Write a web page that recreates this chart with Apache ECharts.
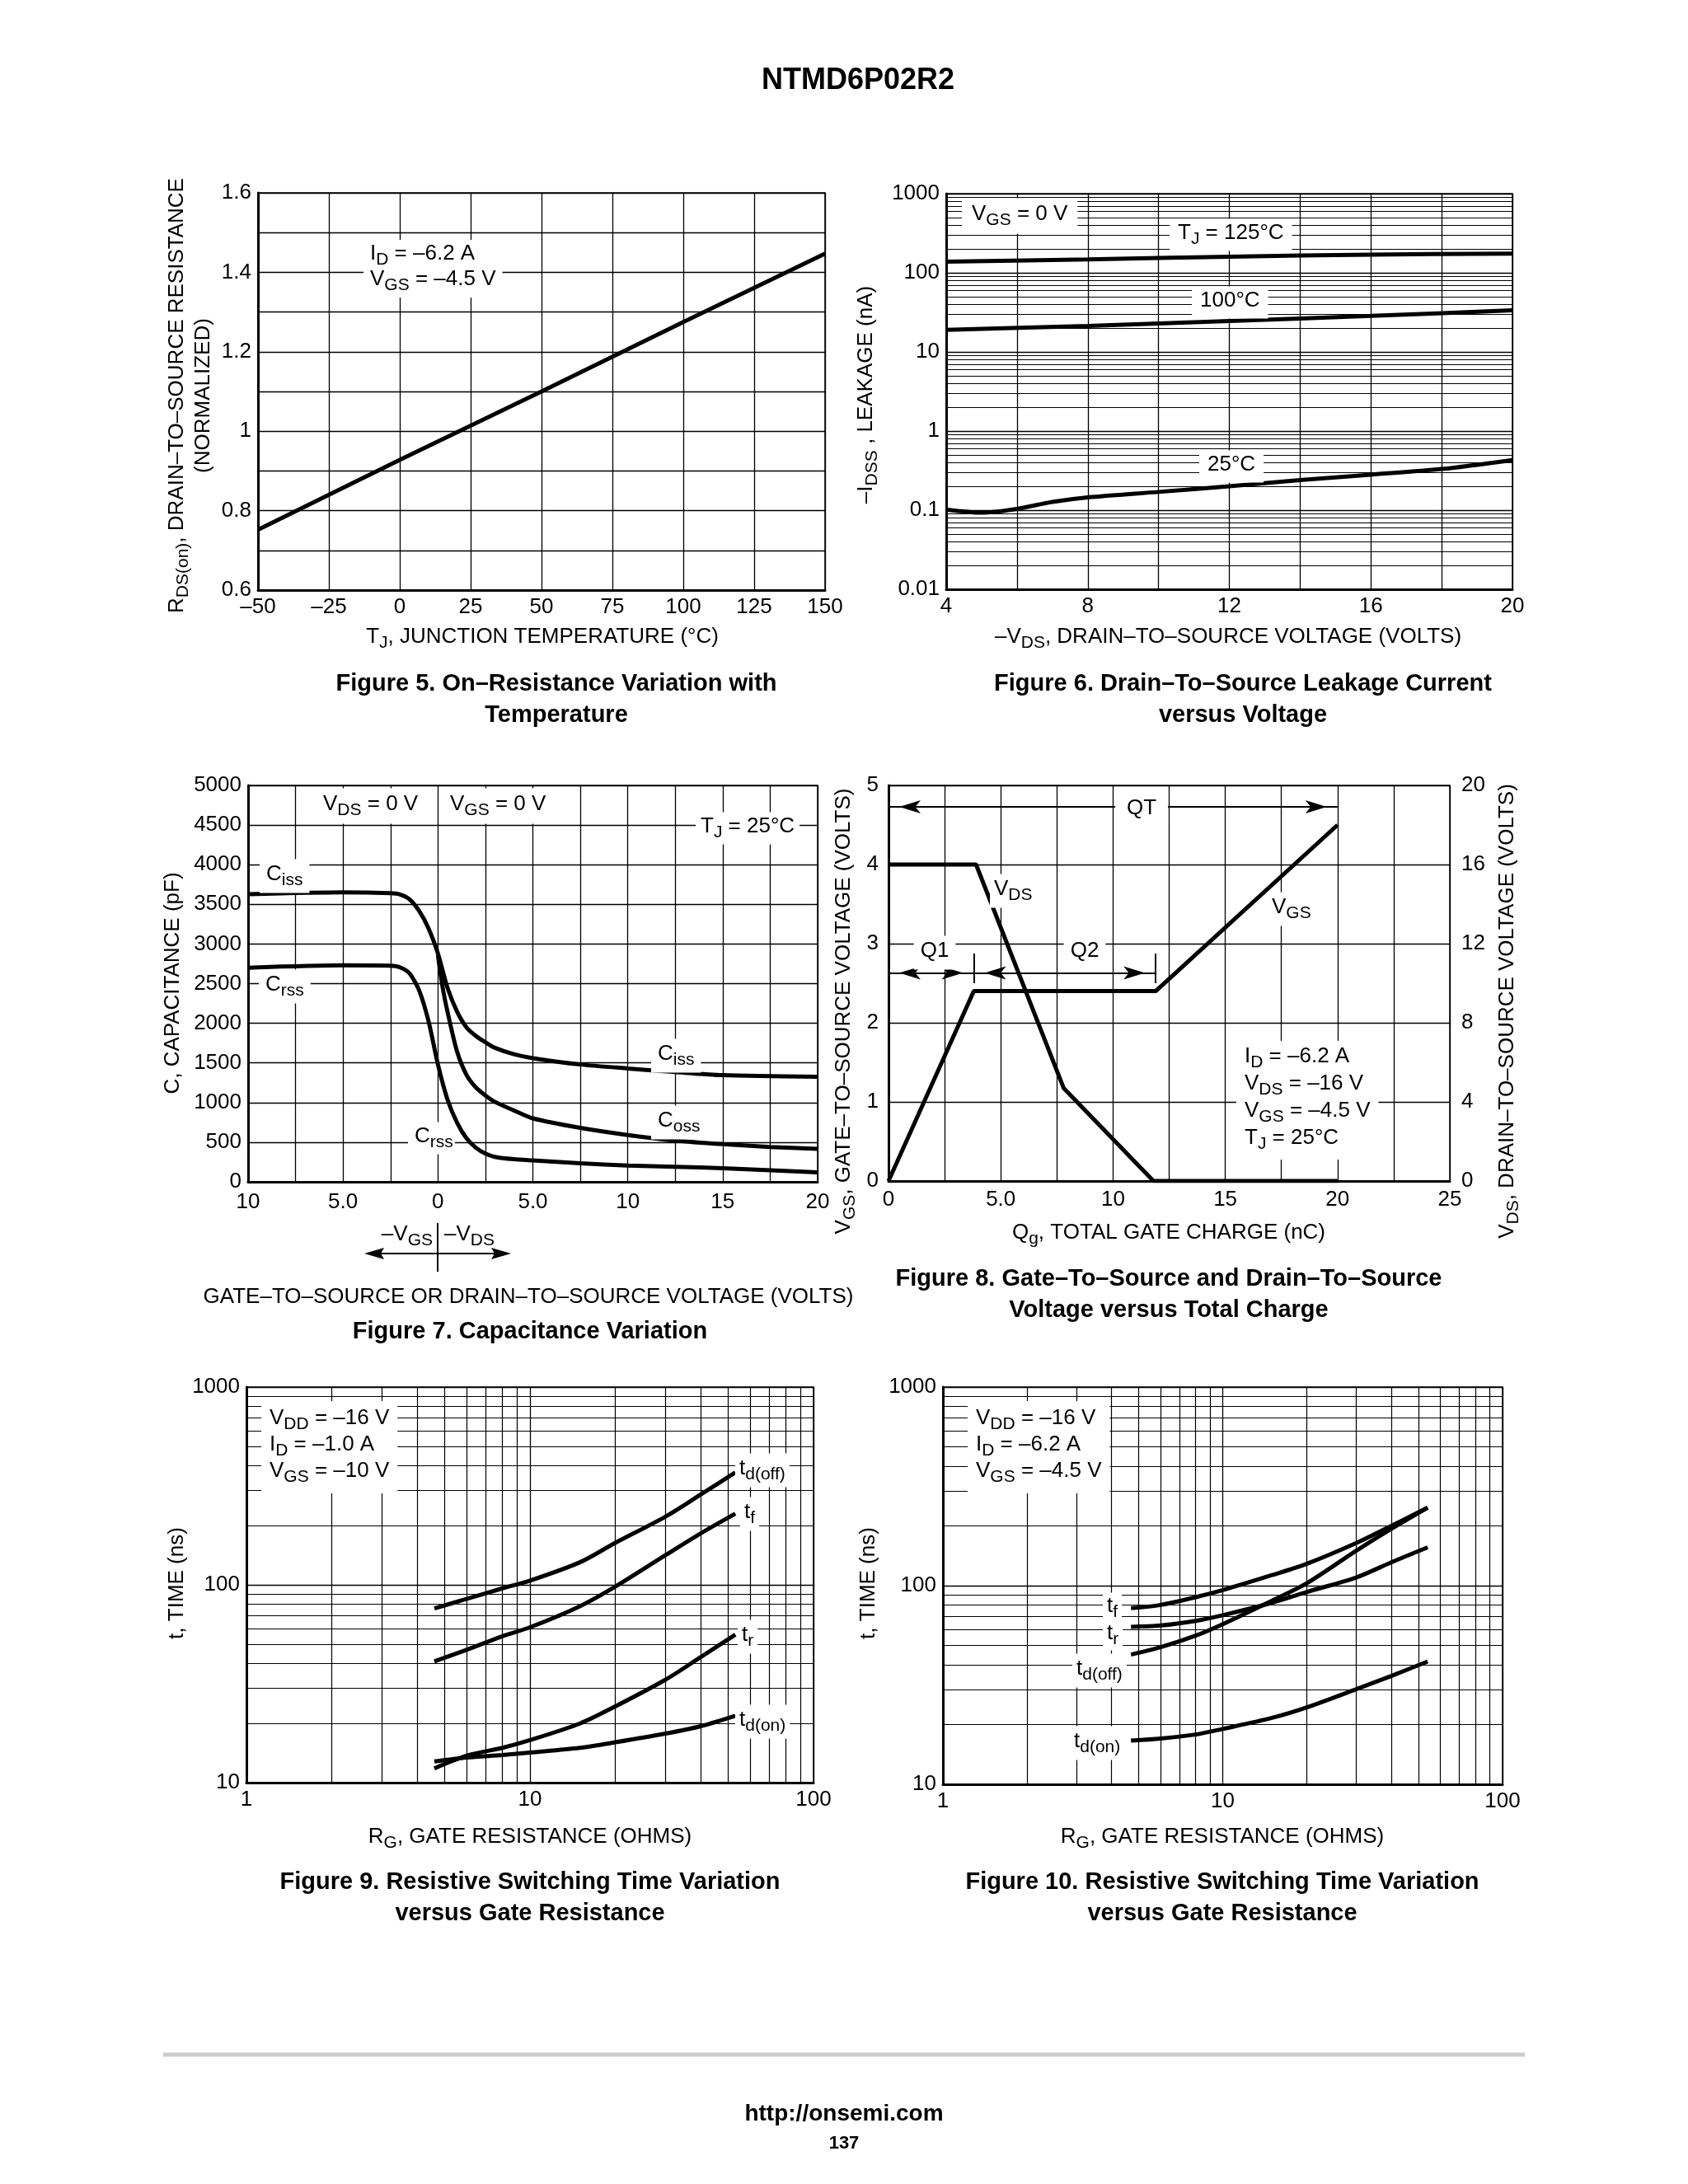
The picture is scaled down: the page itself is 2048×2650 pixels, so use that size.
<!DOCTYPE html>
<html><head><meta charset="utf-8">
<script src="https://cdn.jsdelivr.net/npm/echarts@6/dist/echarts.min.js"></script>
<style>html,body{margin:0;padding:0;background:#fff}#c{width:2048px;height:2650px}</style>
</head><body><div id="c"></div>
<script>
// ---------------- DATA ----------------
// Figure 5
const fig5Temp = [-50, 0, 50, 100, 150];
const fig5Rds = [0.752, 0.928, 1.10, 1.275, 1.447];
// Figure 6
const fig6VdsHi = [4, 8, 12, 16, 20];
const fig6I125 = [138, 148, 160, 170, 175];
const fig6I100 = [19, 21.3, 24.6, 28.5, 33.5];
const fig6VdsLo = [4, 5, 6, 7, 8, 10, 12, 14, 16, 18, 20];
const fig6I25 = [0.102, 0.093, 0.104, 0.127, 0.145, 0.170, 0.200, 0.240, 0.281, 0.331, 0.43];
// Figure 7
const fig7VA = [-10, -5, -2.5, -2, -1.5, -1, -0.5, 0, 0.5, 1, 1.5, 2, 2.5, 3, 4, 5, 7.5, 10, 12.5, 15, 20];
const fig7Ciss = [3627, 3650, 3640, 3625, 3565, 3420, 3200, 2880, 2450, 2150, 1950, 1840, 1760, 1690, 1610, 1560, 1480, 1430, 1385, 1345, 1325];
const fig7Crss = [2700, 2730, 2725, 2705, 2630, 2420, 2030, 1480, 1040, 750, 550, 430, 355, 315, 285, 270, 235, 205, 190, 172, 120];
const fig7VB = [0, 0.25, 0.5, 1, 1.5, 2, 2.5, 3, 4, 5, 7.5, 10, 12.5, 15, 17.5, 20];
const fig7Coss = [2860, 2450, 2150, 1650, 1350, 1190, 1090, 1010, 900, 800, 680, 590, 520, 475, 440, 415];
// Figure 8
const fig8QgVgs = [0, 3.8, 11.9, 20];
const fig8Vgs = [0, 2.4, 2.4, 4.5];
const fig8QgVds = [0, 3.9, 7.8, 11.8, 20];
const fig8Vds = [16, 16, 4.7, 0, 0];
const fig8Arrows = [[[0, 4.73], [20, 4.73]], [[0, 2.63], [3.8, 2.63]], [[3.8, 2.63], [11.9, 2.63]]];
const fig8Ticks = [[[3.8, 10.0], [3.8, 11.5]], [[11.9, 10.0], [11.9, 11.5]]];
// Figure 9
const fig9Rg = [4.6, 6, 8, 10, 15, 20, 30, 40, 53];
const fig9Tdoff = [76, 85, 96, 105, 130, 163, 221, 286, 370];
const fig9Tf = [41, 47, 55, 61, 78, 98, 141, 182, 229];
const fig9Tr = [11.8, 13.7, 15.0, 16.4, 19.9, 24.3, 33.1, 43.1, 56];
const fig9Tdon = [12.8, 13.4, 13.8, 14.2, 15.0, 16.0, 17.7, 19.3, 21.8];
// Figure 10
const fig10Rg = [4.7, 6, 8, 10, 15, 20, 30, 40, 54];
const fig10Tf = [77, 80, 87.5, 95, 113, 129, 164, 200, 247];
const fig10Tr = [62, 63, 66.5, 71, 82, 93, 110, 131, 156];
const fig10Tdoff = [45, 49, 56, 64, 84, 103, 150, 193, 247];
const fig10Tdon = [16.6, 17.0, 17.8, 19.0, 21.6, 24.4, 30.1, 35.1, 41.5];

// ---------------- HELPERS ----------------
const FONT = "'Liberation Sans', Arial, Helvetica, sans-serif";
const BLACK = '#000';

function zip(xs, ys) { return xs.map((x, i) => [x, ys[i]]); }

function mk(s) {
  return s.split('\n').map(line => {
    let out = '', last = 0, m;
    const re = /_\{([^}]*)\}/g;
    while ((m = re.exec(line))) {
      if (m.index > last) out += '{n|' + line.slice(last, m.index) + '}';
      out += '{s|' + m[1] + '}';
      last = re.lastIndex;
    }
    if (last < line.length) out += '{n|' + line.slice(last) + '}';
    return out;
  }).join('\n');
}
function richSet(size, bold, lh) {
  const w = bold ? 'bold' : 'normal';
  const L = lh || Math.round(size * 1.2);
  const ss = Math.round(size * 0.8);
  return {
    n: {fontSize: size, fontFamily: FONT, fontWeight: w, fill: BLACK, lineHeight: L, verticalAlign: 'top'},
    s: {fontSize: ss, fontFamily: FONT, fontWeight: w, fill: BLACK, lineHeight: L, verticalAlign: 'top', padding: [Math.round(size * 0.38), 0, 0, 0]}
  };
}
function T(x, y, s, o) {
  o = o || {};
  const size = o.size || 26;
  const pad = o.pad || (o.bg ? [3, 7, 3, 7] : [0, 0, 0, 0]);
  const align = o.align || 'left';
  if (align === 'left') x -= pad[3];
  if (align === 'right') x += pad[1];
  const style = {
    text: mk(s), rich: richSet(size, o.bold, o.lh), align: align, verticalAlign: 'middle',
    fontFamily: FONT, fontSize: size, fontWeight: o.bold ? 'bold' : 'normal', fill: BLACK, padding: pad
  };
  if (o.bg) style.backgroundColor = '#fff';
  return {type: 'text', x: x, y: y, z: 100, rotation: o.rot ? Math.PI / 2 : 0, style: style};
}

function axis(o) {
  const a = {
    type: o.type || 'value', gridIndex: o.grid, min: o.min, max: o.max,
    axisLine: {show: o.line !== false, onZero: false, lineStyle: {color: BLACK, width: 3}},
    axisTick: {show: false},
    axisLabel: {show: true, color: BLACK, fontSize: 26, fontFamily: FONT, margin: o.margin || 10,
      showMinLabel: true, showMaxLabel: true, formatter: o.fmt || (v => String(v))},
    splitLine: {show: o.split !== false, lineStyle: {color: BLACK, width: 1.3}},
    splitArea: {show: false}
  };
  if (o.interval != null) a.interval = o.interval;
  if (o.type === 'log') a.logBase = 10;
  if (o.position) a.position = o.position;
  return a;
}

function line(xi, yi, data, extra) {
  return Object.assign({
    type: 'line', xAxisIndex: xi, yAxisIndex: yi, data: data, showSymbol: false, symbol: 'none',
    smooth: 0.3, lineStyle: {color: BLACK, width: 5}, silent: true,
    animation: false, z: 5, clip: true
  }, extra || {});
}

function logMinor(decades) {
  const v = [];
  decades.forEach(d => { for (let k = 2; k <= 9; k++) v.push(+(k * d).toPrecision(3)); });
  return v;
}
function minorMark(yVals, xVals) {
  const data = [];
  (yVals || []).forEach(v => data.push({yAxis: v}));
  (xVals || []).forEach(v => data.push({xAxis: v}));
  return {silent: true, symbol: 'none', label: {show: false}, emphasis: {disabled: true}, animation: false,
    lineStyle: {color: BLACK, width: 1.2, type: 'solid'}, data: data};
}

const logFmt = v => String(+(+v).toPrecision(3));

// ---------------- LAYOUT ----------------
const gridBase = {show: true, borderColor: BLACK, borderWidth: 1.5, backgroundColor: 'transparent', containLabel: false, outerBoundsMode: 'none'};
const grids = [
  Object.assign({left: 313, top: 234, width: 688, height: 482}, gridBase),
  Object.assign({left: 1148, top: 235, width: 687, height: 480}, gridBase),
  Object.assign({left: 301, top: 953, width: 691, height: 481}, gridBase),
  Object.assign({left: 1078, top: 953, width: 681, height: 480}, gridBase),
  Object.assign({left: 299, top: 1683, width: 688, height: 480}, gridBase),
  Object.assign({left: 1144, top: 1683, width: 679, height: 482}, gridBase)
];

const xAxes = [
  axis({grid: 0, min: -50, max: 150, interval: 25, margin: 8, fmt: v => v < 0 ? '\u2013' + (-v) : String(v)}),
  axis({grid: 1, min: 4, max: 20, interval: 2, margin: 8, fmt: v => v % 4 === 0 ? String(v) : ''}),
  axis({grid: 2, min: -10, max: 20, interval: 2.5, margin: 12, fmt: v => {
    if (Math.abs(v % 5) > 1e-6) return '';
    if (v === 0) return '0';
    if (Math.abs(v) === 5) return '5.0';
    return String(Math.abs(v));
  }}),
  axis({grid: 3, min: 0, max: 25, interval: 2.5, margin: 10, fmt: v => {
    if (Math.abs(v % 5) > 1e-6) return '';
    return v === 5 ? '5.0' : String(v);
  }}),
  axis({grid: 4, type: 'log', min: 1, max: 100, margin: 8, fmt: logFmt}),
  axis({grid: 5, type: 'log', min: 1, max: 100, margin: 8, fmt: logFmt})
];
const yAxes = [
  axis({grid: 0, min: 0.6, max: 1.6, interval: 0.1, margin: 8, fmt: v => { const r = Math.round(v * 10); return r % 2 === 0 ? String(r / 10) : ''; }}),
  axis({grid: 1, type: 'log', min: 0.01, max: 1000, margin: 8, fmt: logFmt}),
  axis({grid: 2, min: 0, max: 5000, interval: 500, margin: 8, fmt: v => String(v)}),
  axis({grid: 3, min: 0, max: 5, interval: 1, margin: 12}),
  axis({grid: 3, min: 0, max: 20, interval: 4, margin: 14, position: 'right', line: false, split: false}),
  axis({grid: 4, type: 'log', min: 10, max: 1000, margin: 8, fmt: logFmt}),
  axis({grid: 5, type: 'log', min: 10, max: 1000, margin: 8, fmt: logFmt})
];

const arrowMark = {
  silent: true, symbol: ['arrow', 'arrow'], symbolSize: [12, 26], symbolOffset: [[0, 13], [0, 13]],
  label: {show: false}, emphasis: {disabled: true}, animation: false,
  lineStyle: {color: BLACK, width: 2, type: 'solid'},
  data: fig8Arrows.map(p => [{coord: p[0]}, {coord: p[1]}])
};
const tickMark = {
  silent: true, symbol: 'none', label: {show: false}, emphasis: {disabled: true}, animation: false,
  lineStyle: {color: BLACK, width: 2, type: 'solid'},
  data: fig8Ticks.map(p => [{coord: p[0]}, {coord: p[1]}])
};

const series = [
  line(0, 0, zip(fig5Temp, fig5Rds), {smooth: false}),
  line(1, 1, zip(fig6VdsHi, fig6I125), {markLine: minorMark(logMinor([0.01, 0.1, 1, 10, 100]))}),
  line(1, 1, zip(fig6VdsHi, fig6I100)),
  line(1, 1, zip(fig6VdsLo, fig6I25)),
  line(2, 2, zip(fig7VA, fig7Ciss), {smooth: 0.25}),
  line(2, 2, zip(fig7VA, fig7Crss), {smooth: 0.25}),
  line(2, 2, zip(fig7VB, fig7Coss), {smooth: 0.25}),
  line(3, 3, zip(fig8QgVgs, fig8Vgs), {smooth: false, markLine: arrowMark}),
  line(3, 4, zip(fig8QgVds, fig8Vds), {smooth: false, markLine: tickMark}),
  line(4, 5, zip(fig9Rg, fig9Tdoff), {markLine: minorMark(logMinor([10, 100]), logMinor([1, 10]))}),
  line(4, 5, zip(fig9Rg, fig9Tf)),
  line(4, 5, zip(fig9Rg, fig9Tr)),
  line(4, 5, zip(fig9Rg, fig9Tdon)),
  line(5, 6, zip(fig10Rg, fig10Tf), {markLine: minorMark(logMinor([10, 100]), logMinor([1, 10]))}),
  line(5, 6, zip(fig10Rg, fig10Tr)),
  line(5, 6, zip(fig10Rg, fig10Tdoff)),
  line(5, 6, zip(fig10Rg, fig10Tdon))
];

const CAP = {bold: true, size: 29, align: 'center', lh: 38};
const BOX = [8, 10, 8, 10];
const elements = [
  T(1041, 102, 'NTMD6P02R2', {bold: true, size: 36, align: 'center'}),
  // Figure 5
  T(449, 326, 'I_{D} = \u20136.2 A\nV_{GS} = \u20134.5 V', {bg: true, pad: [4, 8, 4, 8]}),
  T(217, 480, 'R_{DS(on)}, DRAIN\u2013TO\u2013SOURCE RESISTANCE', {align: 'center', rot: true}),
  T(249, 480, '(NORMALIZED)', {align: 'center', rot: true}),
  T(658, 775, 'T_{J}, JUNCTION TEMPERATURE (\u00B0C)', {align: 'center'}),
  T(675, 853, 'Figure 5. On\u2013Resistance Variation with\nTemperature', CAP),
  // Figure 6
  T(1179, 262, 'V_{GS} = 0 V', {bg: true, pad: [6, 12, 6, 12]}),
  T(1429, 285, 'T_{J} = 125\u00B0C', {bg: true, pad: [4, 10, 4, 10]}),
  T(1456, 367, '100\u00B0C', {bg: true, pad: [4, 10, 4, 10]}),
  T(1465, 566, '25\u00B0C', {bg: true, pad: [4, 10, 4, 10]}),
  T(1053, 479, '\u2013I_{DSS} , LEAKAGE (nA)', {align: 'center', rot: true}),
  T(1490, 775, '\u2013V_{DS}, DRAIN\u2013TO\u2013SOURCE VOLTAGE (VOLTS)', {align: 'center'}),
  T(1508, 853, 'Figure 6. Drain\u2013To\u2013Source Leakage Current\nversus Voltage', CAP),
  // Figure 7
  T(392, 978, 'V_{DS} = 0 V', {bg: true, pad: [6, 6, 6, 6]}),
  T(546, 978, 'V_{GS} = 0 V', {bg: true, pad: [6, 6, 6, 6]}),
  T(850, 1005, 'T_{J} = 25\u00B0C', {bg: true, pad: [4, 6, 4, 6]}),
  T(323, 1063, 'C_{iss}', {bg: true, pad: [5, 8, 5, 8]}),
  T(322, 1197, 'C_{rss}', {bg: true, pad: [5, 8, 5, 8]}),
  T(798, 1281, 'C_{iss}', {bg: true, pad: [5, 8, 5, 8]}),
  T(798, 1362, 'C_{oss}', {bg: true, pad: [5, 8, 5, 8]}),
  T(503, 1381, 'C_{rss}', {bg: true, pad: [4, 2, 4, 8]}),
  T(525, 1500, '\u2013V_{GS}', {align: 'right'}),
  T(539, 1500, '\u2013V_{DS}', {align: 'left'}),
  {type: 'line', z: 100, shape: {x1: 455, y1: 1521, x2: 607, y2: 1521}, style: {stroke: BLACK, lineWidth: 2}},
  {type: 'polygon', z: 100, shape: {points: [[442, 1521], [466, 1514], [462, 1521], [466, 1528]]}, style: {fill: BLACK}},
  {type: 'polygon', z: 100, shape: {points: [[620, 1521], [596, 1514], [600, 1521], [596, 1528]]}, style: {fill: BLACK}},
  {type: 'line', z: 100, shape: {x1: 531, y1: 1484, x2: 531, y2: 1543}, style: {stroke: BLACK, lineWidth: 2}},
  T(212, 1193, 'C, CAPACITANCE (pF)', {align: 'center', rot: true}),
  T(641, 1576, 'GATE\u2013TO\u2013SOURCE OR DRAIN\u2013TO\u2013SOURCE VOLTAGE (VOLTS)', {align: 'center'}),
  T(643, 1620, 'Figure 7. Capacitance Variation', CAP),
  // Figure 8
  T(1385, 983, 'QT', {align: 'center', bg: true, pad: [6, 14, 6, 14]}),
  T(1134, 1156, 'Q1', {align: 'center', bg: true, pad: [5, 8, 5, 8]}),
  T(1316, 1156, 'Q2', {align: 'center', bg: true, pad: [5, 8, 5, 8]}),
  T(1206, 1081, 'V_{DS}', {bg: true, pad: [5, 5, 5, 5]}),
  T(1543, 1103, 'V_{GS}', {bg: true, pad: [5, 5, 5, 5]}),
  T(1510, 1335, 'I_{D} = \u20136.2 A\nV_{DS} = \u201316 V\nV_{GS} = \u20134.5 V\nT_{J} = 25\u00B0C', {bg: true, pad: [6, 10, 6, 10], lh: 33}),
  T(1026, 1227, 'V_{GS}, GATE\u2013TO\u2013SOURCE VOLTAGE (VOLTS)', {align: 'center', rot: true}),
  T(1831, 1227, 'V_{DS}, DRAIN\u2013TO\u2013SOURCE VOLTAGE (VOLTS)', {align: 'center', rot: true}),
  T(1418, 1498, 'Q_{g}, TOTAL GATE CHARGE (nC)', {align: 'center'}),
  T(1418, 1575, 'Figure 8. Gate\u2013To\u2013Source and Drain\u2013To\u2013Source\nVoltage versus Total Charge', CAP),
  // Figure 9
  T(327, 1756, 'V_{DD} = \u201316 V\nI_{D} = \u20131.0 A\nV_{GS} = \u201310 V', {bg: true, pad: BOX, lh: 32}),
  T(897, 1784, 't_{d(off)}', {bg: true, pad: [5, 5, 5, 5]}),
  T(903, 1837, 't_{f}', {bg: true, pad: [5, 5, 5, 5]}),
  T(900, 1986, 't_{r}', {bg: true, pad: [5, 5, 5, 5]}),
  T(897, 2089, 't_{d(on)}', {bg: true, pad: [5, 5, 5, 5]}),
  T(217, 1921, 't, TIME (ns)', {align: 'center', rot: true}),
  T(643, 2231, 'R_{G}, GATE RESISTANCE (OHMS)', {align: 'center'}),
  T(643, 2307, 'Figure 9. Resistive Switching Time Variation\nversus Gate Resistance', CAP),
  // Figure 10
  T(1184, 1756, 'V_{DD} = \u201316 V\nI_{D} = \u20136.2 A\nV_{GS} = \u20134.5 V', {bg: true, pad: BOX, lh: 32}),
  T(1343, 1951, 't_{f}', {bg: true, pad: [3, 5, 3, 5]}),
  T(1343, 1984, 't_{r}', {bg: true, pad: [3, 5, 3, 5]}),
  T(1306, 2027, 't_{d(off)}', {bg: true, pad: [5, 5, 5, 5]}),
  T(1303, 2115, 't_{d(on)}', {bg: true, pad: [5, 5, 5, 5]}),
  T(1056, 1921, 't, TIME (ns)', {align: 'center', rot: true}),
  T(1483, 2231, 'R_{G}, GATE RESISTANCE (OHMS)', {align: 'center'}),
  T(1483, 2307, 'Figure 10. Resistive Switching Time Variation\nversus Gate Resistance', CAP),
  // footer
  {type: 'line', z: 100, shape: {x1: 198, y1: 2493, x2: 1850, y2: 2493}, style: {stroke: '#cccccc', lineWidth: 5}},
  T(1024, 2568, 'http://onsemi.com', {bold: true, size: 28, align: 'center'}),
  T(1024, 2603, '137', {bold: true, size: 22, align: 'center'})
];

const chart = echarts.init(document.getElementById('c'), null, {renderer: 'canvas', width: 2048, height: 2650});
chart.setOption({
  backgroundColor: '#fff',
  animation: false,
  textStyle: {fontFamily: FONT, color: BLACK},
  grid: grids,
  xAxis: xAxes,
  yAxis: yAxes,
  series: series,
  graphic: {elements: elements}
});
</script>
</body></html>
